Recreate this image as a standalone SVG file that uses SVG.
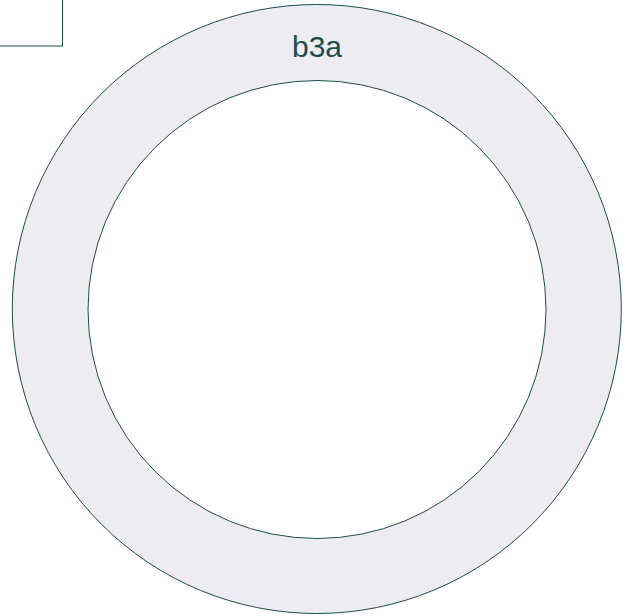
<svg xmlns="http://www.w3.org/2000/svg" width="631" height="616" viewBox="0 0 631 616">
<style>
.ring{fill:#ECECF1;stroke:#1D4C4C;stroke-width:1}
.hole{fill:#FFFFFF;stroke:#1D4C4C;stroke-width:1}
.box{fill:#FFFFFF;stroke:#1D4C4C;stroke-width:1}
.lbl{font-family:"Liberation Sans",Arial,sans-serif;font-size:30px;fill:#1D4C4C;text-anchor:middle}
</style>
<rect width="631" height="616" fill="#FFFFFF"/>
<g id="box">
<rect class="box" x="-10" y="-10" width="72.5" height="56"/>
</g>
<g id="b3a">
<circle class="ring" cx="316.8" cy="309" r="304.5"/>
<circle class="hole" cx="317" cy="309.5" r="229"/>
<text class="lbl" x="317" y="56.5">b3a</text>
</g>
<g id="connectors"></g>
</svg>
